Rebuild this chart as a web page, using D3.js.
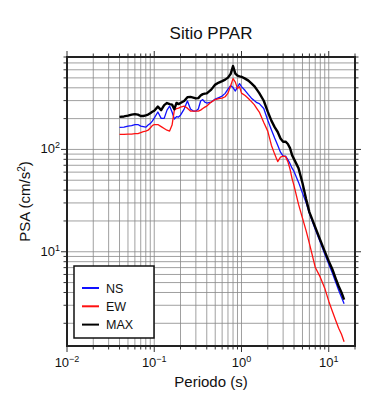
<!DOCTYPE html>
<html>
<head>
<meta charset="utf-8">
<script src="https://cdn.jsdelivr.net/npm/d3@7"></script>
<style>
  body { margin: 0; background: #fff; }
  svg { font-family: "Liberation Sans", Arial, sans-serif; }
</style>
</head>
<body>
<div id="chart"></div>
<script>
// periodos (s)
const periods = [0.04, 0.045, 0.05, 0.055, 0.06, 0.065, 0.07, 0.075, 0.08, 0.085, 0.09, 0.095,
  0.1, 0.11, 0.12, 0.13, 0.14, 0.15, 0.16, 0.17, 0.18, 0.19, 0.2, 0.22, 0.24, 0.26, 0.28,
  0.3, 0.32, 0.34, 0.36, 0.38, 0.4, 0.45, 0.5, 0.55, 0.6, 0.65, 0.7, 0.75, 0.8, 0.85, 0.9, 0.95,
  1.0, 1.1, 1.2, 1.3, 1.4, 1.5, 1.6, 1.8, 2.0, 2.2, 2.4, 2.6, 2.8, 3.0, 3.2, 3.4, 3.6, 3.8,
  4.0, 4.5, 5.0, 5.5, 6.0, 7.0, 8.0, 9.0, 10, 11, 12, 13, 14, 15];

// PSA (cm/s2) componente NS
const ns = [164, 165, 169, 171, 175, 175, 169, 167, 165, 173, 179, 189,
  202, 232, 201, 201, 242, 265, 232, 198, 209, 207, 216, 248, 297, 248, 237,
  237, 248, 297, 307, 290, 284, 290, 310, 321, 332, 353, 388, 421, 402, 372, 406, 440,
  411, 376, 343, 317, 300, 286, 280, 251, 193, 156, 129, 110, 94, 86, 86, 79.5, 72.6, 65.6,
  61, 47.9, 37.4, 30.2, 23.8, 16.6, 12.4, 9.5, 7.6, 6.2, 5.05, 4.2, 3.6, 3.1];

// componente EW
const ew = [140, 140, 141, 141, 143, 143, 146, 149, 151, 154, 162, 171,
  175, 175, 167, 160, 154, 151, 173, 242, 251, 253, 259, 265, 253, 237, 237,
  237, 237, 242, 251, 259, 265, 290, 307, 314, 317, 327, 355, 416, 492, 455, 393, 411,
  355, 336, 314, 293, 274, 251, 232, 183, 151, 110, 90, 76, 84, 86, 85, 76, 64.2, 51.9,
  44.3, 29.2, 21.3, 16.1, 12.1, 7.07, 5.65, 4.41, 3.29, 2.62, 2.14, 1.79, 1.56, 1.32];

// maximo
const maxv = [208, 210, 214, 219, 221, 219, 212, 212, 215, 219, 226, 233,
  239, 262, 242, 271, 284, 277, 274, 247, 285, 277, 284, 297, 324, 326, 321,
  315, 317, 336, 347, 351, 353, 384, 430, 450, 465, 481, 503, 545, 652, 551, 526, 517,
  513, 492, 470, 442, 416, 384, 355, 299, 234, 191, 165, 148, 128, 119, 119, 113, 103, 88,
  80.4, 65.7, 47, 32.7, 24.4, 17.4, 13.0, 10.1, 8.1, 6.75, 5.5, 4.6, 4.0, 3.4];

const xLabels = [0.01, 0.1, 1, 10];
const xExp = ['\u22122', '\u22121', '0', '1'];
const yLabels = [10, 100];
const yExp = ['1', '2'];

const series = [
  { name: 'NS', values: ns, color: '#1010ff', width: 1.3 },
  { name: 'EW', values: ew, color: '#ff1010', width: 1.3 },
  { name: 'MAX', values: maxv, color: '#000', width: 2.4 }
];

const ancho = 390, alto = 400;
const mLeft = 67, mRight = 355, mTop = 57, mBottom = 346;

const x = d3.scaleLog().domain([0.01, 20]).range([mLeft, mRight]);
const y = d3.scaleLog().domain([1.2, 800]).range([mBottom, mTop]);

const svg = d3.select('#chart').append('svg')
  .attr('width', ancho)
  .attr('height', alto);

// valores de la grilla (1..9 por decada)
const xGrid = [];
[0.01, 0.1, 1, 10].forEach(d => { for (let k = 1; k < 10; k++) { const v = d * k; if (v <= 20.0001) xGrid.push(v); } });
const yGrid = [];
[1, 10, 100].forEach(d => { for (let k = 1; k < 10; k++) { const v = d * k; if (v >= 1.2 && v <= 800.001) yGrid.push(v); } });

const grid = svg.append('g').attr('stroke', '#888').attr('stroke-width', 0.8);
grid.selectAll('line.gx').data(xGrid).enter().append('line')
  .attr('x1', d => x(d)).attr('x2', d => x(d))
  .attr('y1', mTop).attr('y2', mBottom);
grid.selectAll('line.gy').data(yGrid).enter().append('line')
  .attr('x1', mLeft).attr('x2', mRight)
  .attr('y1', d => y(d)).attr('y2', d => y(d));

// ticks fuera del marco en los cuatro lados
const isMajor = v => Math.abs(Math.log10(v) - Math.round(Math.log10(v))) < 1e-6;
const ticks = svg.append('g').attr('stroke', '#333').attr('stroke-width', 1);
xGrid.forEach(v => {
  const len = isMajor(v) ? 6 : 3.5;
  ticks.append('line').attr('x1', x(v)).attr('x2', x(v)).attr('y1', mBottom).attr('y2', mBottom + len);
  ticks.append('line').attr('x1', x(v)).attr('x2', x(v)).attr('y1', mTop).attr('y2', mTop - len);
});
yGrid.forEach(v => {
  const len = isMajor(v) ? 6 : 3.5;
  ticks.append('line').attr('x1', mLeft).attr('x2', mLeft - len).attr('y1', y(v)).attr('y2', y(v));
  ticks.append('line').attr('x1', mRight).attr('x2', mRight + len).attr('y1', y(v)).attr('y2', y(v));
});

// curvas
const line = d3.line()
  .x((d, i) => x(periods[i]))
  .y(d => y(d));

svg.append('g').selectAll('path').data(series).enter().append('path')
  .attr('d', s => line(s.values))
  .attr('fill', 'none')
  .attr('stroke', s => s.color)
  .attr('stroke-width', s => s.width)
  .attr('stroke-linejoin', 'round');

// marco
svg.append('rect')
  .attr('x', mLeft).attr('y', mTop)
  .attr('width', mRight - mLeft).attr('height', mBottom - mTop)
  .attr('fill', 'none').attr('stroke', '#222').attr('stroke-width', 2);

// etiquetas eje x
xLabels.forEach((v, i) => {
  const t = svg.append('text').attr('x', x(v)).attr('y', 367)
    .attr('text-anchor', 'middle').attr('font-size', 13).attr('fill', '#111');
  t.append('tspan').text('10');
  t.append('tspan').attr('dy', -5).attr('font-size', 9).text(xExp[i]);
});
yLabels.forEach((v, i) => {
  const t = svg.append('text').attr('x', 60).attr('y', y(v) + 4)
    .attr('text-anchor', 'end').attr('font-size', 13).attr('fill', '#111');
  t.append('tspan').text('10');
  t.append('tspan').attr('dy', -5).attr('font-size', 9).text(yExp[i]);
});

// titulos
svg.append('text').attr('x', (mLeft + mRight) / 2).attr('y', 39)
  .attr('text-anchor', 'middle').attr('font-size', 17).attr('fill', '#111')
  .text('Sitio PPAR');

svg.append('text').attr('x', (mLeft + mRight) / 2).attr('y', 387)
  .attr('text-anchor', 'middle').attr('font-size', 15).attr('fill', '#111')
  .text('Periodo (s)');

const yl = svg.append('text')
  .attr('transform', 'translate(30,' + ((mTop + mBottom) / 2) + ') rotate(-90)')
  .attr('text-anchor', 'middle').attr('font-size', 15).attr('fill', '#111');
yl.append('tspan').text('PSA (cm/s');
yl.append('tspan').attr('dy', -5).attr('font-size', 10).text('2');
yl.append('tspan').attr('dy', 5).text(')');

// leyenda
const leg = svg.append('g');
leg.append('rect').attr('x', 74).attr('y', 266).attr('width', 80).attr('height', 72)
  .attr('fill', '#fff').attr('stroke', '#111').attr('stroke-width', 1.5);
series.forEach((s, i) => {
  const ly = 288 + i * 18.3;
  leg.append('line').attr('x1', 82).attr('x2', 99).attr('y1', ly).attr('y2', ly)
    .attr('stroke', s.color).attr('stroke-width', 2);
  leg.append('text').attr('x', 106).attr('y', ly + 4.5).attr('font-size', 12.5).attr('fill', '#111')
    .text(s.name);
});
</script>
</body>
</html>
